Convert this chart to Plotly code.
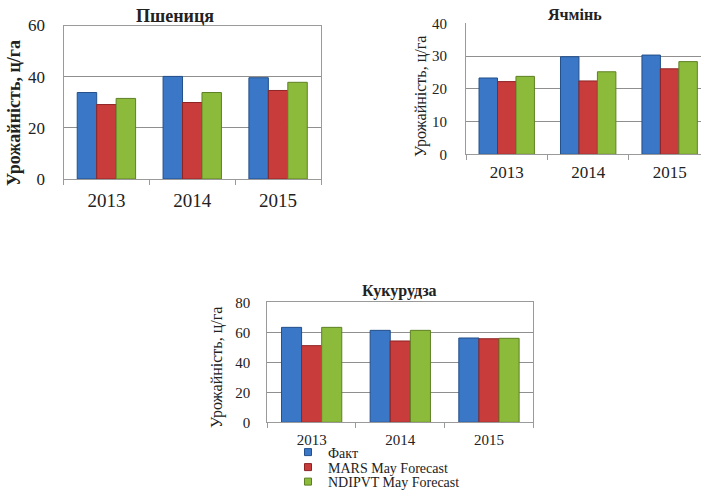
import plotly.graph_objects as go

years = ["2013", "2014", "2015"]
series_names = ["Факт", "MARS May Forecast", "NDIPVT May Forecast"]

wheat_fact = [33.8, 40.1, 39.6]
wheat_mars = [29.1, 29.9, 34.6]
wheat_ndipvt = [31.5, 33.8, 37.8]

barley_fact = [23.3, 29.8, 30.3]
barley_mars = [22.2, 22.4, 26.1]
barley_ndipvt = [23.8, 25.2, 28.3]

corn_fact = [63.3, 61.3, 56.2]
corn_mars = [51.1, 54.2, 55.7]
corn_ndipvt = [63.3, 61.3, 56.0]

titles = ["Пшениця", "Ячмінь", "Кукурудза"]
y_title = "Урожайність, ц/га"

fills = ["#3a77c6", "#c93c3c", "#8cbb3b"]
edges = ["#234f8a", "#8e2424", "#5e8024"]
FONT = "Liberation Serif"

data = [
    (wheat_fact, wheat_mars, wheat_ndipvt),
    (barley_fact, barley_mars, barley_ndipvt),
    (corn_fact, corn_mars, corn_ndipvt),
]
legend_ids = ["legend", "legend2", "legend3"]

fig = go.Figure()
for ci, vals in enumerate(data):
    suffix = "" if ci == 0 else str(ci + 1)
    for si, v in enumerate(vals):
        fig.add_trace(go.Bar(
            x=years, y=v, name=series_names[si],
            marker=dict(color=fills[si], line=dict(color=edges[si], width=1)),
            xaxis="x" + suffix, yaxis="y" + suffix,
            showlegend=False, offsetgroup=str(si),
        ))

# legend-only entries with small square keys
for si, name in enumerate(series_names):
    fig.add_trace(go.Scatter(
        x=[None], y=[None], mode="markers", name=name,
        marker=dict(symbol="square", size=7, color=fills[si],
                    line=dict(color=edges[si], width=1)),
        xaxis="x3", yaxis="y3", legend=legend_ids[si], showlegend=True,
    ))

grid = "#8f8f8f"
border = "#9a9a9a"

def xa(domain, anchor, size, rng, mirror=True, standoff=6):
    return dict(domain=domain, anchor=anchor, type="category", range=rng,
                showline=True, linecolor=border, linewidth=1, mirror=mirror,
                ticks="outside", tickson="boundaries", ticklen=5, tickcolor=border,
                tickfont=dict(family=FONT, size=size, color="#222"),
                ticklabelstandoff=standoff, showgrid=False, fixedrange=True)

def ya(domain, anchor, rng, dtick, size, mirror=True, standoff=16):
    return dict(domain=domain, anchor=anchor, range=rng, dtick=dtick,
                showline=True, linecolor=border, linewidth=1, mirror=mirror,
                showgrid=True, gridcolor=grid, gridwidth=1, zeroline=False,
                ticks="", tickfont=dict(family=FONT, size=size, color="#222"),
                ticklabelstandoff=standoff, fixedrange=True)

W, H = 701, 491
def px(x): return x / W
def py(y): return (H - y) / H

def leg(ycenter):
    return dict(x=px(288), y=py(ycenter), xanchor="left", yanchor="middle",
                font=dict(family=FONT, size=14, color="#222"),
                bgcolor="rgba(0,0,0,0)", borderwidth=0)

def ann(text, x, y, size, angle=0):
    return dict(text=text, x=px(x), y=py(y), xref="paper", yref="paper",
                xanchor="center", yanchor="middle", textangle=angle,
                showarrow=False, font=dict(family=FONT, size=size, color="#222"))

layout = dict(
    width=W, height=H, margin=dict(l=0, r=0, t=0, b=0, autoexpand=False),
    paper_bgcolor="white", plot_bgcolor="white",
    barmode="group", bargap=0.32, bargroupgap=0,
    font=dict(family=FONT, color="#222"),
    xaxis=xa([px(63.5), px(321)], "y", 19, [-0.5, 2.5], standoff=4),
    yaxis=ya([py(179), py(25.5)], "x", [0, 60], 20, 17, standoff=14),
    xaxis2=xa([px(466), 1.0], "y2", 17, [-0.5, 2.385], mirror=False, standoff=2),
    yaxis2=ya([py(154.3), py(23.3)], "x2", [0, 40], 10, 15, mirror=False, standoff=15),
    xaxis3=xa([px(267.3), px(533.3)], "y3", 15, [-0.5, 2.5], standoff=4),
    yaxis3=ya([py(422.3), py(302.3)], "x3", [0, 80], 20, 15, standoff=13),
    legend=leg(452.5),
    legend2=leg(467.5),
    legend3=leg(482),
    annotations=[
        ann("<b>" + titles[0] + "</b>", 175, 15.5, 18),
        ann("<b>" + titles[1] + "</b>", 575, 14, 16),
        ann("<b>" + titles[2] + "</b>", 399, 291.5, 16),
        ann("<b>" + y_title + "</b>", 14, 113, 18, -90),
        ann(y_title, 421, 97, 16, -90),
        ann(y_title, 217, 368, 16, -90),
    ],
)
fig.update_layout(**layout)
fig.write_html("out.html")
